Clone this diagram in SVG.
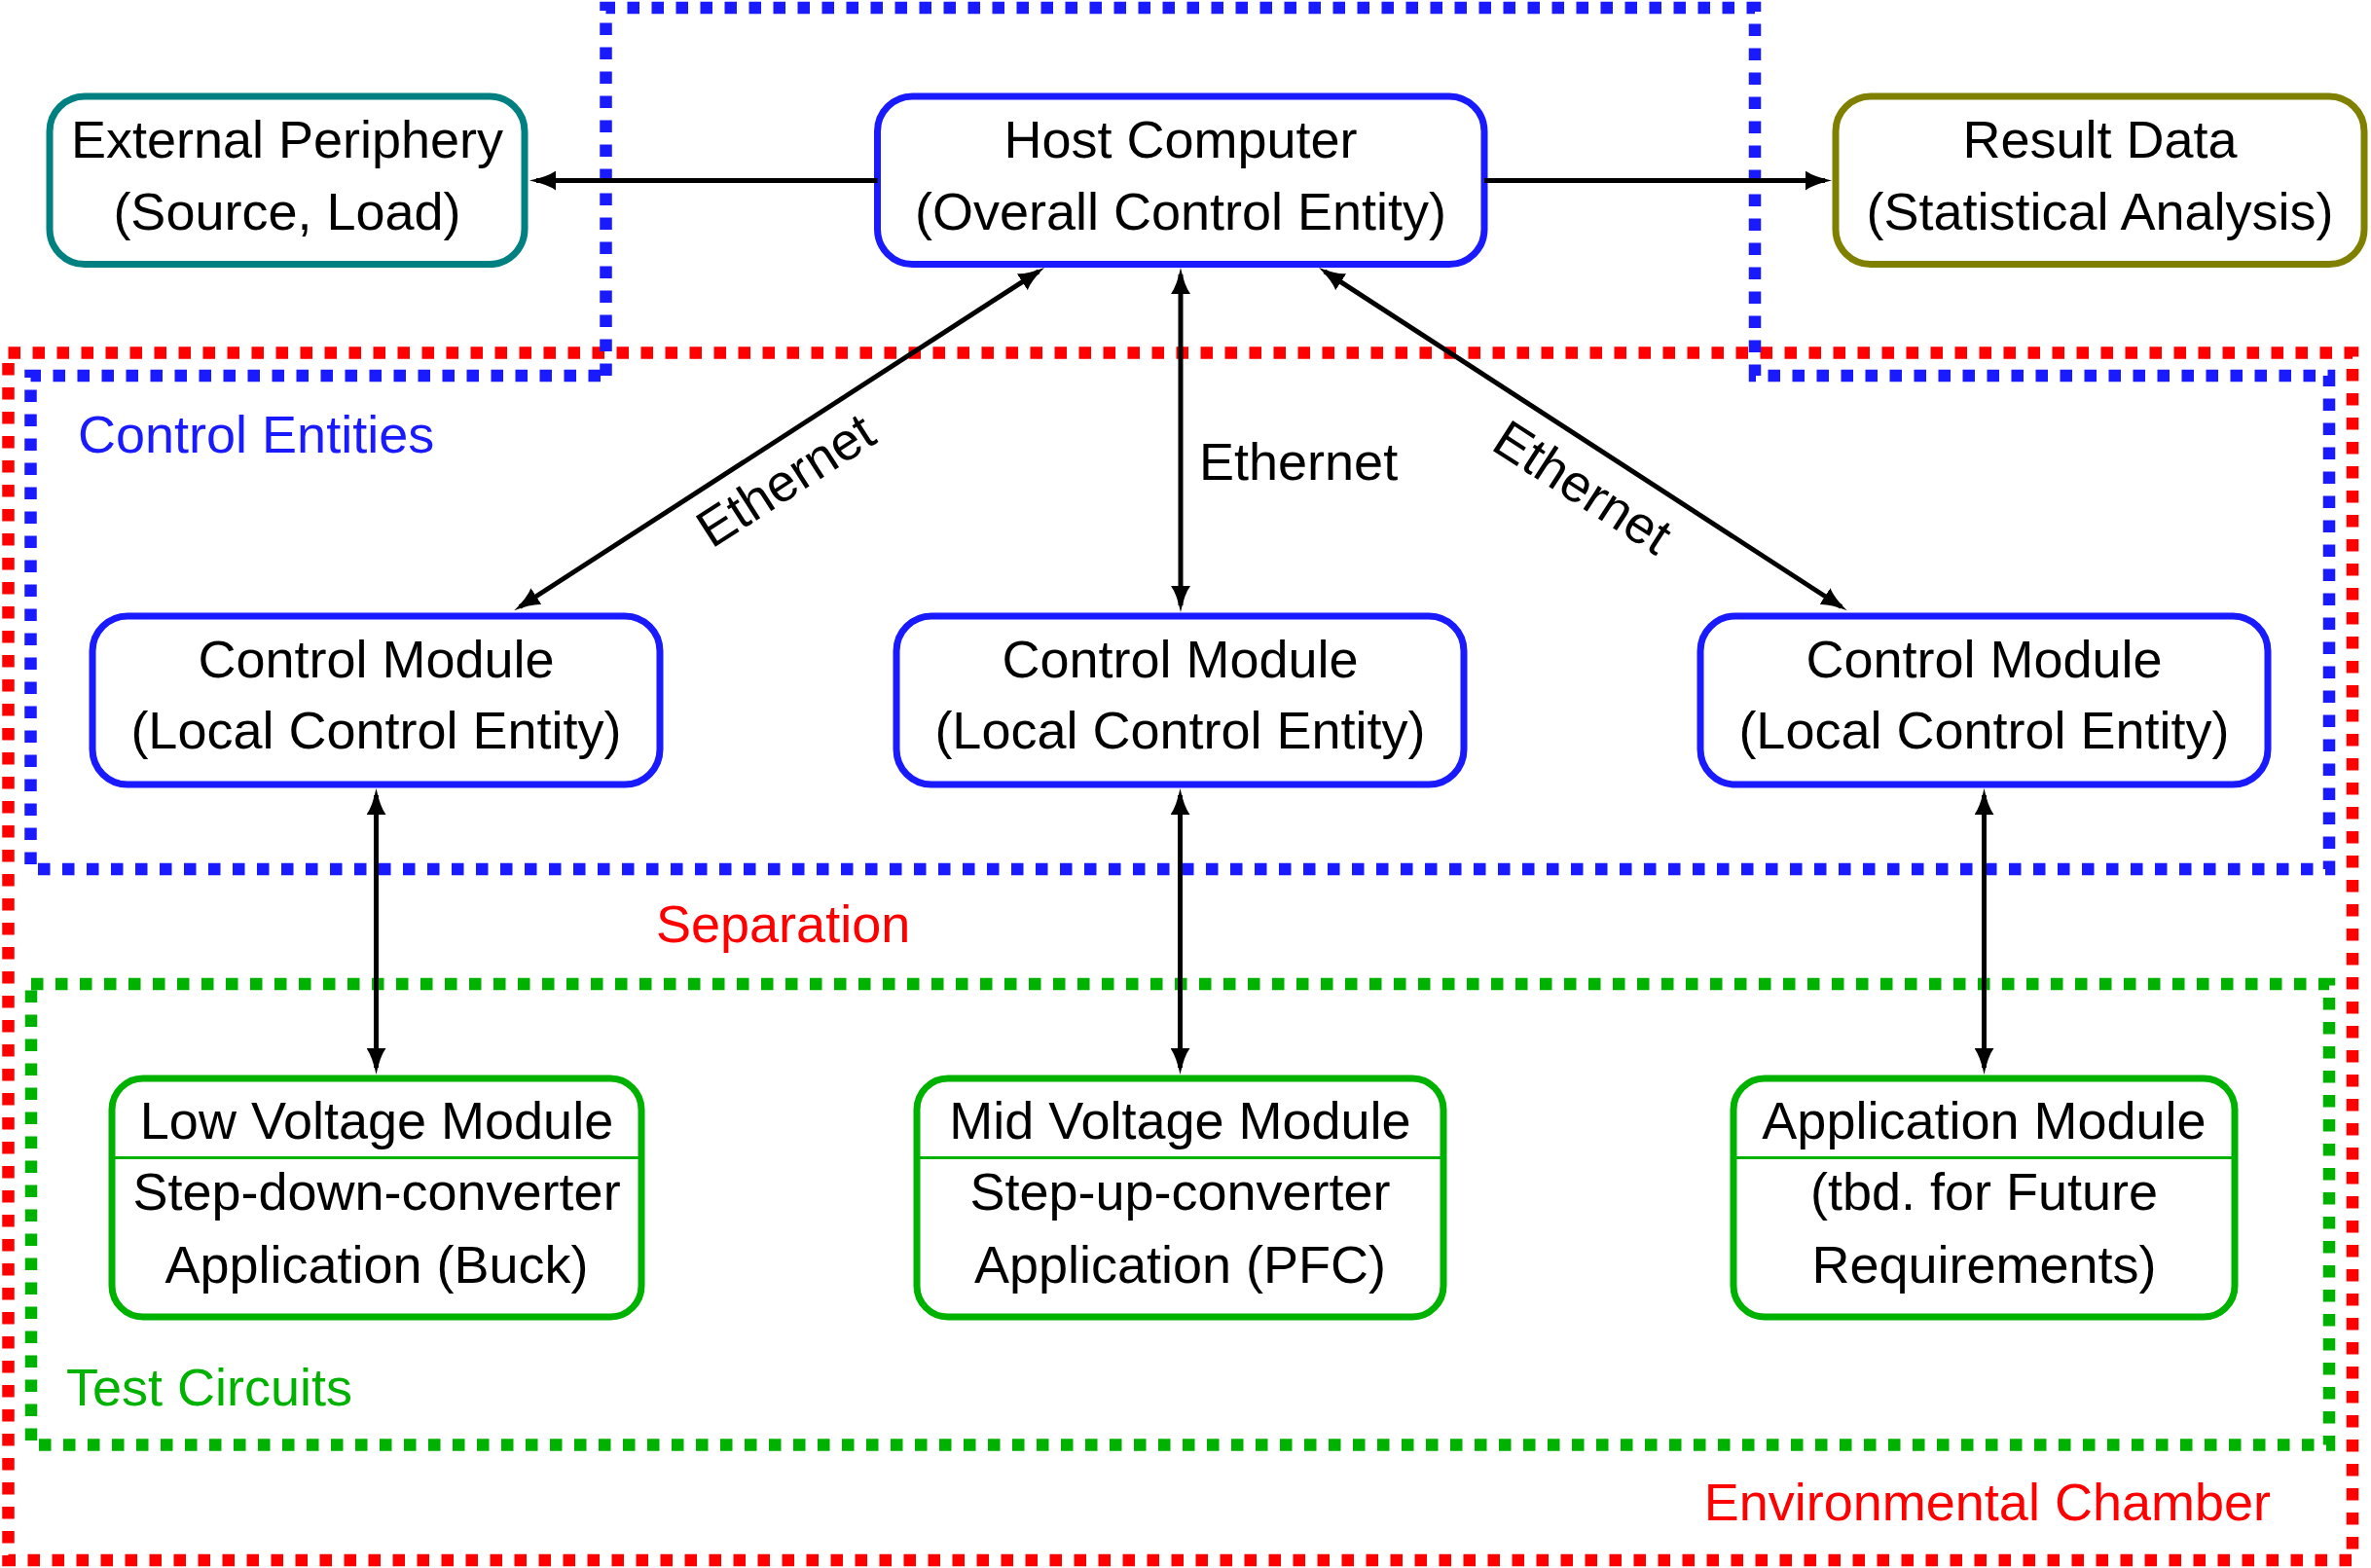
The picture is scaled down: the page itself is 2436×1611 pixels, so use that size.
<svg xmlns="http://www.w3.org/2000/svg" width="2436" height="1611" viewBox="0 0 2436 1611">
<style>
text{font-family:"Liberation Sans",Arial,sans-serif;font-size:54px;fill:#000}
.c{text-anchor:middle}
.box{fill:#fff;stroke-width:7}
.dash{fill:none;stroke-width:12.5;stroke-dasharray:12.5 12.5}
.conn{stroke:#000;stroke-width:5;fill:none}
.arr{marker-end:url(#ah)}
.both{marker-start:url(#ah);marker-end:url(#ah)}
</style>
<defs>
<marker id="ah" viewBox="0 0 27 20" refX="20" refY="10" markerWidth="27" markerHeight="20" markerUnits="userSpaceOnUse" orient="auto-start-reverse">
<path d="M0,0 Q8,6 27,10 Q8,14 0,20 Z" fill="#000"/>
</marker>
</defs>
<rect width="2436" height="1611" fill="#fff"/>

<g id="regions">
<rect id="env-chamber" class="dash" x="8.5" y="362.5" width="2408.5" height="1240.5" stroke="#ff0000"/>
<path id="control-entities" class="dash" stroke="#1a1aff" d="M622.5,386 L622.5,8 L1803,8 L1803,386 L2393,386 L2393,893 L31.5,893 L31.5,386 Z"/>
<rect id="test-circuits" class="dash" x="32" y="1011" width="2361" height="473.5" stroke="#00b200"/>
</g>

<g id="region-labels">
<text x="80" y="465" style="fill:#1a1aff">Control Entities</text>
<text x="674" y="968" style="fill:#ff0000">Separation</text>
<text x="68" y="1444" style="fill:#00b200">Test Circuits</text>
<text x="2333" y="1562" style="fill:#ff0000;text-anchor:end">Environmental Chamber</text>
</g>

<g id="external-periphery">
<rect class="box" x="51" y="99" width="488" height="172.5" rx="36" stroke="#008080"/>
<text class="c" x="295" y="162">External Periphery</text>
<text class="c" x="295" y="236">(Source, Load)</text>
</g>

<g id="host-computer">
<rect class="box" x="901.5" y="99" width="623.5" height="172.5" rx="36" stroke="#1a1aff"/>
<text class="c" x="1213" y="162">Host Computer</text>
<text class="c" x="1213" y="236">(Overall Control Entity)</text>
</g>

<g id="result-data">
<rect class="box" x="1886" y="99" width="543" height="172.5" rx="36" stroke="#808000"/>
<text class="c" x="2157.5" y="162">Result Data</text>
<text class="c" x="2157.5" y="236">(Statistical Analysis)</text>
</g>

<g id="control-module-1">
<rect class="box" x="95" y="633" width="583" height="173" rx="36" stroke="#1a1aff"/>
<text class="c" x="386.5" y="696">Control Module</text>
<text class="c" x="386.5" y="769">(Local Control Entity)</text>
</g>

<g id="control-module-2">
<rect class="box" x="921" y="633" width="583" height="173" rx="36" stroke="#1a1aff"/>
<text class="c" x="1212.5" y="696">Control Module</text>
<text class="c" x="1212.5" y="769">(Local Control Entity)</text>
</g>

<g id="control-module-3">
<rect class="box" x="1747" y="633" width="583" height="173" rx="36" stroke="#1a1aff"/>
<text class="c" x="2038.5" y="696">Control Module</text>
<text class="c" x="2038.5" y="769">(Local Control Entity)</text>
</g>

<g id="low-voltage-module">
<rect class="box" x="115" y="1108" width="544" height="245" rx="32" stroke="#00b200"/>
<line x1="115" y1="1189.5" x2="659" y2="1189.5" stroke="#00b200" stroke-width="3"/>
<text class="c" x="387" y="1170">Low Voltage Module</text>
<text class="c" x="387" y="1243">Step-down-converter</text>
<text class="c" x="387" y="1318">Application (Buck)</text>
</g>

<g id="mid-voltage-module">
<rect class="box" x="942" y="1108" width="541" height="245" rx="32" stroke="#00b200"/>
<line x1="942" y1="1189.5" x2="1483" y2="1189.5" stroke="#00b200" stroke-width="3"/>
<text class="c" x="1212.5" y="1170">Mid Voltage Module</text>
<text class="c" x="1212.5" y="1243">Step-up-converter</text>
<text class="c" x="1212.5" y="1318">Application (PFC)</text>
</g>

<g id="application-module">
<rect class="box" x="1781" y="1108" width="515" height="245" rx="32" stroke="#00b200"/>
<line x1="1781" y1="1189.5" x2="2296" y2="1189.5" stroke="#00b200" stroke-width="3"/>
<text class="c" x="2038.5" y="1170">Application Module</text>
<text class="c" x="2038.5" y="1243">(tbd. for Future</text>
<text class="c" x="2038.5" y="1318">Requirements)</text>
</g>

<g id="connectors">
<path class="conn arr" d="M901.5,185.5 L551,185.5"/>
<path class="conn arr" d="M1525,185.5 L1875,185.5"/>
<path class="conn both" d="M1067.1,278.8 L534.1,623.5"/>
<path class="conn both" d="M1213,282 L1213,622"/>
<path class="conn both" d="M1360.9,278.8 L1891.8,623.5"/>
<path class="conn both" d="M386.5,817 L386.5,1097"/>
<path class="conn both" d="M1212.5,817 L1212.5,1097"/>
<path class="conn both" d="M2038.5,817 L2038.5,1097"/>
<text class="c" transform="translate(817,509) rotate(-32.8)">Ethernet</text>
<text x="1232" y="493">Ethernet</text>
<text class="c" transform="translate(1616,516) rotate(32.8)">Ethernet</text>
</g>
</svg>
